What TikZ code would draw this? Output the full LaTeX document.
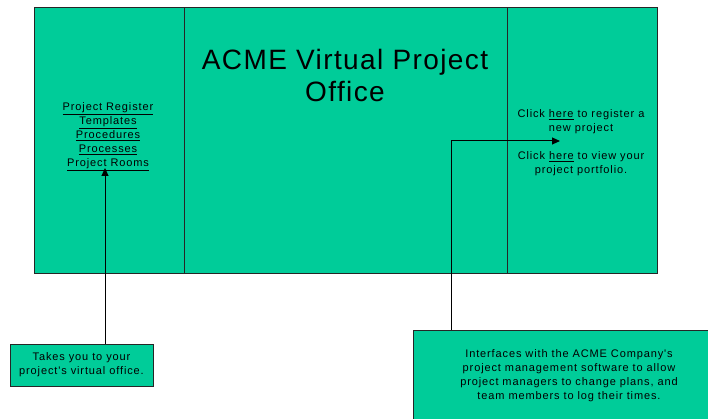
\documentclass[tikz,border=0pt]{standalone}
\usepackage{fontspec}
\setmainfont{Liberation Sans}
\newfontfamily\notefont[LetterSpace=8]{Liberation Sans}
\newfontfamily\titlefont[LetterSpace=5]{Liberation Sans}
\usetikzlibrary{arrows.meta,positioning}
\definecolor{acmegreen}{RGB}{0,204,153}
\tikzset{
  panel/.style    = {shape=rectangle, draw=black!85, fill=acmegreen,
                     line width=1pt, inner sep=0pt, minimum height=265pt},
  note/.style     = {shape=rectangle, draw=black!85, fill=acmegreen,
                     line width=0.9pt, align=center,
                     font=\notefont\fontsize{11}{14}\selectfont},
  linktext/.style = {align=center, font=\notefont\fontsize{11}{14}\selectfont},
  pointer/.style  = {draw, line width=1pt, -{Triangle[length=8pt,width=7pt]}}
}

\begin{document}
\begin{tikzpicture}[x=1pt,y=-1pt]
  \clip (0,0) rectangle (708,419);
  \fill[white] (0,0) rectangle (708,419);

  % the three panels of the page
  \node[panel, minimum width=150pt] (left)   at (109,140.5) {};
  \node[panel, minimum width=323pt] (middle) at (345.5,140.5) {};
  \node[panel, minimum width=150pt] (right)  at (582,140.5) {};

  \node[align=center, font=\titlefont\fontsize{28}{32}\selectfont] (title) at (345,75)
    {ACME Virtual Project\\Office};

  \node[linktext] (links) at (108,137)
    {\underline{Project Register}\\\underline{Templates}\\\underline{Procedures}\\
     \underline{Processes}\\\underline{Project Rooms}};

  \node[linktext] (register) at (581,122) {Click \underline{here} to register a\\new project};
  \node[linktext] (portfolio) at (581,164) {Click \underline{here} to view your\\project portfolio.};

  % notes below
  \node[note, minimum width=143pt, minimum height=42pt] (takes) at (81.5,365)
    {Takes you to your\\project's virtual office.};
  \node[note, minimum width=312pt, minimum height=92pt] (iface) at (569,376)
    {Interfaces with the ACME Company's\\project management software to allow\\
     project managers to change plans, and\\team members to log their times.};

  \coordinate (tipL) at (105,168);
  \coordinate (tipR) at (560,141);
  \draw[pointer] (takes.north -| tipL) -- (tipL);
  \draw[pointer] ([xshift=39pt]iface.north west) |- (tipR);
\end{tikzpicture}
\end{document}
